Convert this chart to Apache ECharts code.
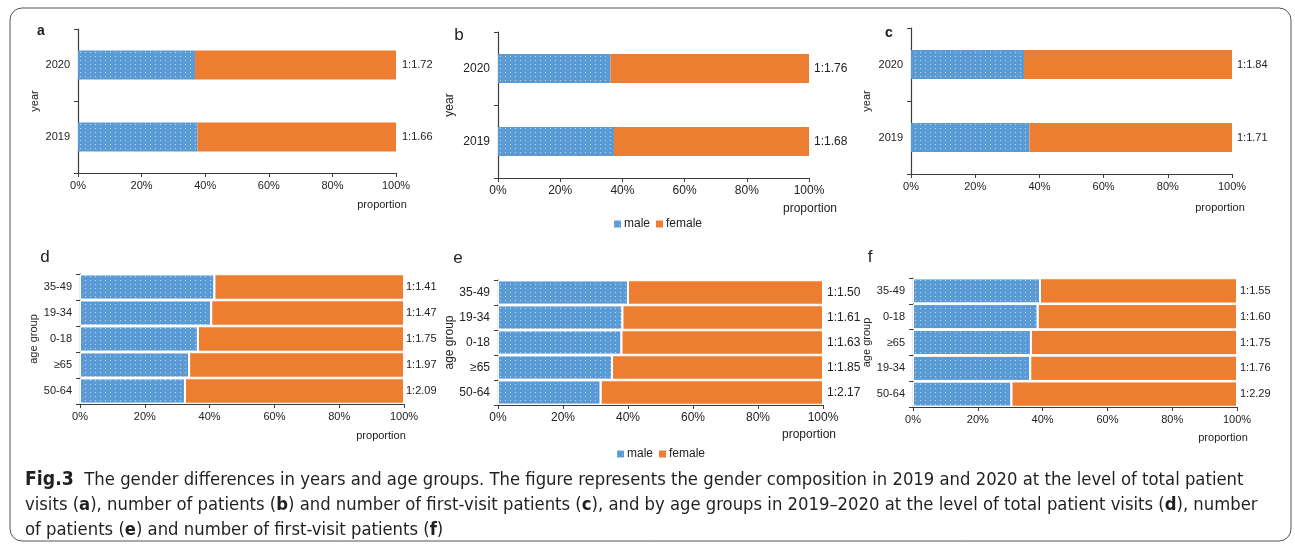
<!DOCTYPE html>
<html>
<head>
<meta charset="utf-8">
<script src="https://cdn.jsdelivr.net/npm/echarts@6/dist/echarts.min.js"></script>
<style>html,body{margin:0;padding:0;background:#fff;}#c{width:1295px;height:548px;}</style>
</head>
<body>
<div id="c"></div>
<script>
// ---- data ----
const years = ['2019', '2020'];
const maleA = [37.6, 36.8];
const femaleA = [62.4, 63.2];
const ratioA = ['1:1.66', '1:1.72'];
const maleB = [37.3, 36.2];
const femaleB = [62.7, 63.8];
const ratioB = ['1:1.68', '1:1.76'];
const maleC = [36.9, 35.2];
const femaleC = [63.1, 64.8];
const ratioC = ['1:1.71', '1:1.84'];
const agesDE = ['50-64', '≥65', '0-18', '19-34', '35-49'];
const maleD = [32.4, 33.7, 36.4, 40.5, 41.5];
const femaleD = [67.6, 66.3, 63.6, 59.5, 58.5];
const ratioD = ['1:2.09', '1:1.97', '1:1.75', '1:1.47', '1:1.41'];
const maleE = [31.6, 35.1, 38.0, 38.3, 40.0];
const femaleE = [68.4, 64.9, 62.0, 61.7, 60.0];
const ratioE = ['1:2.17', '1:1.85', '1:1.63', '1:1.61', '1:1.50'];
const agesF = ['50-64', '19-34', '≥65', '0-18', '35-49'];
const maleF = [30.4, 36.2, 36.4, 38.5, 39.2];
const femaleF = [69.6, 63.8, 63.6, 61.5, 60.8];
const ratioF = ['1:2.29', '1:1.76', '1:1.75', '1:1.60', '1:1.55'];
const xTicks = [0, 20, 40, 60, 80, 100];

// ---- layout ----
const FONT = '"Liberation Sans", Arial, sans-serif';
const CAP = '"DejaVu Sans Condensed", "Liberation Sans Narrow", sans-serif';
const BLUE = '#5B9BD5', ORANGE = '#ED7D31', AXIS = '#3c3c3c', TXT = '#222';
const panels = [
  {cats: years, male: maleA, female: femaleA, ratio: ratioA, name: 'year', grid: {left: 78, top: 29, width: 318, height: 144}, gap: '60%', fs: 11, nameGap: 38, dist: 6, border: 0},
  {cats: years, male: maleB, female: femaleB, ratio: ratioB, name: 'year', grid: {left: 498, top: 32, width: 311, height: 146}, gap: '60%', fs: 12, nameGap: 42, dist: 5, border: 0},
  {cats: years, male: maleC, female: femaleC, ratio: ratioC, name: 'year', grid: {left: 911, top: 28, width: 321, height: 146}, gap: '60%', fs: 11, nameGap: 39, dist: 5, border: 0},
  {cats: agesDE, male: maleD, female: femaleD, ratio: ratioD, name: 'age group', grid: {left: 80, top: 274, width: 324, height: 130}, gap: '2%', fs: 11, nameGap: 38, dist: 2, border: 1},
  {cats: agesDE, male: maleE, female: femaleE, ratio: ratioE, name: 'age group', grid: {left: 498, top: 280, width: 325, height: 125}, gap: '2%', fs: 12, nameGap: 40, dist: 4, border: 1},
  {cats: agesF, male: maleF, female: femaleF, ratio: ratioF, name: 'age group', grid: {left: 913, top: 278, width: 324, height: 129}, gap: '2%', fs: 11, nameGap: 40, dist: 3, border: 1}
];

const decal = {symbol: 'rect', symbolSize: 1, color: 'rgba(255,255,255,0.6)', dashArrayX: [1, 4], dashArrayY: [1, 2.5], rotation: 0};

const grid = [], xAxis = [], yAxis = [], series = [];
panels.forEach((p, i) => {
  grid.push(Object.assign({containLabel: false}, p.grid));
  xAxis.push({
    type: 'value', gridIndex: i, min: xTicks[0], max: xTicks[xTicks.length - 1], interval: xTicks[1] - xTicks[0],
    axisLine: {show: true, lineStyle: {color: AXIS, width: 1.2}},
    axisTick: {show: true, length: 4, lineStyle: {color: AXIS}},
    axisLabel: {formatter: '{value}%', fontSize: p.fs, color: TXT, fontFamily: FONT, margin: 7},
    splitLine: {show: false}
  });
  yAxis.push({
    type: 'category', gridIndex: i, data: p.cats,
    axisLine: {show: true, lineStyle: {color: AXIS, width: 1.2}},
    axisTick: {show: true, length: 4, interval: 0, lineStyle: {color: AXIS}},
    axisLabel: {fontSize: p.fs, color: TXT, fontFamily: FONT, margin: 8},
    name: p.name, nameLocation: 'middle', nameRotate: 90, nameGap: p.nameGap,
    nameTextStyle: {fontSize: p.fs, color: TXT, fontFamily: FONT}
  });
  series.push({
    type: 'bar', name: 'male', stack: 's' + i, xAxisIndex: i, yAxisIndex: i, data: p.male,
    barCategoryGap: p.gap,
    itemStyle: {color: BLUE, decal: decal, borderColor: '#fff', borderWidth: p.border},
    emphasis: {disabled: true}
  });
  series.push({
    type: 'bar', name: 'female', stack: 's' + i, xAxisIndex: i, yAxisIndex: i, data: p.female,
    barCategoryGap: p.gap,
    itemStyle: {color: ORANGE, borderColor: '#fff', borderWidth: p.border},
    emphasis: {disabled: true},
    label: {show: true, position: 'right', distance: p.dist, fontSize: p.fs, color: TXT, fontFamily: FONT,
      formatter: (d) => p.ratio[d.dataIndex]}
  });
});

function t(x, y, text, fs, weight, align) {
  return {type: 'text', x: x, y: y, style: {text: text, fontSize: fs, fontWeight: weight || 'normal', fill: TXT, fontFamily: FONT, align: align || 'center', verticalAlign: 'middle'}};
}
const CFS = 18.3;
function cap(y, text) {
  return {type: 'text', x: 25, y: y, style: {text: text, fontSize: CFS, fill: '#231f20', fontFamily: CAP, align: 'left', verticalAlign: 'middle',
    rich: {b: {fontSize: CFS, fontWeight: 'bold', fontFamily: CAP, fill: '#231f20'}, f: {fontSize: CFS + 1, fontWeight: 'bold', fontFamily: CAP, fill: '#231f20'}}}};
}

const graphic = [
  {type: 'rect', shape: {x: 10, y: 8, width: 1281, height: 533, r: 12}, style: {fill: 'none', stroke: '#555', lineWidth: 1}, z: -1},
  t(41, 31, 'a', 14, 'bold'),
  t(459, 35, 'b', 17),
  t(889, 33, 'c', 14, 'bold'),
  t(45, 257, 'd', 17),
  t(458, 258, 'e', 17),
  t(870, 257, 'f', 17),
  t(382, 205, 'proportion', 11),
  t(810, 209, 'proportion', 12),
  t(1220, 208, 'proportion', 11),
  t(381, 436, 'proportion', 11),
  t(809, 435, 'proportion', 12),
  t(1223, 438, 'proportion', 11),
  cap(480, '{f|Fig.3}  The gender differences in years and age groups. The figure represents the gender composition in 2019 and 2020 at the level of total patient'),
  cap(505, 'visits ({b|a}), number of patients ({b|b}) and number of first-visit patients ({b|c}), and by age groups in 2019–2020 at the level of total patient visits ({b|d}), number'),
  cap(530, 'of patients ({b|e}) and number of first-visit patients ({b|f})')
];

const legendBase = {data: ['male', 'female'], icon: 'rect', itemWidth: 7, itemHeight: 7, itemGap: 6, selectedMode: false,
  textStyle: {fontSize: 12, color: TXT, fontFamily: FONT, padding: [0, 0, 0, -2]}};
const legend = [
  Object.assign({left: 609, top: 213}, legendBase),
  Object.assign({left: 612, top: 443}, legendBase)
];

const chart = echarts.init(document.getElementById('c'), null, {renderer: 'canvas'});
chart.setOption({
  backgroundColor: '#fff', animation: false,
  grid, xAxis, yAxis, series, legend, graphic
});
</script>
</body>
</html>
